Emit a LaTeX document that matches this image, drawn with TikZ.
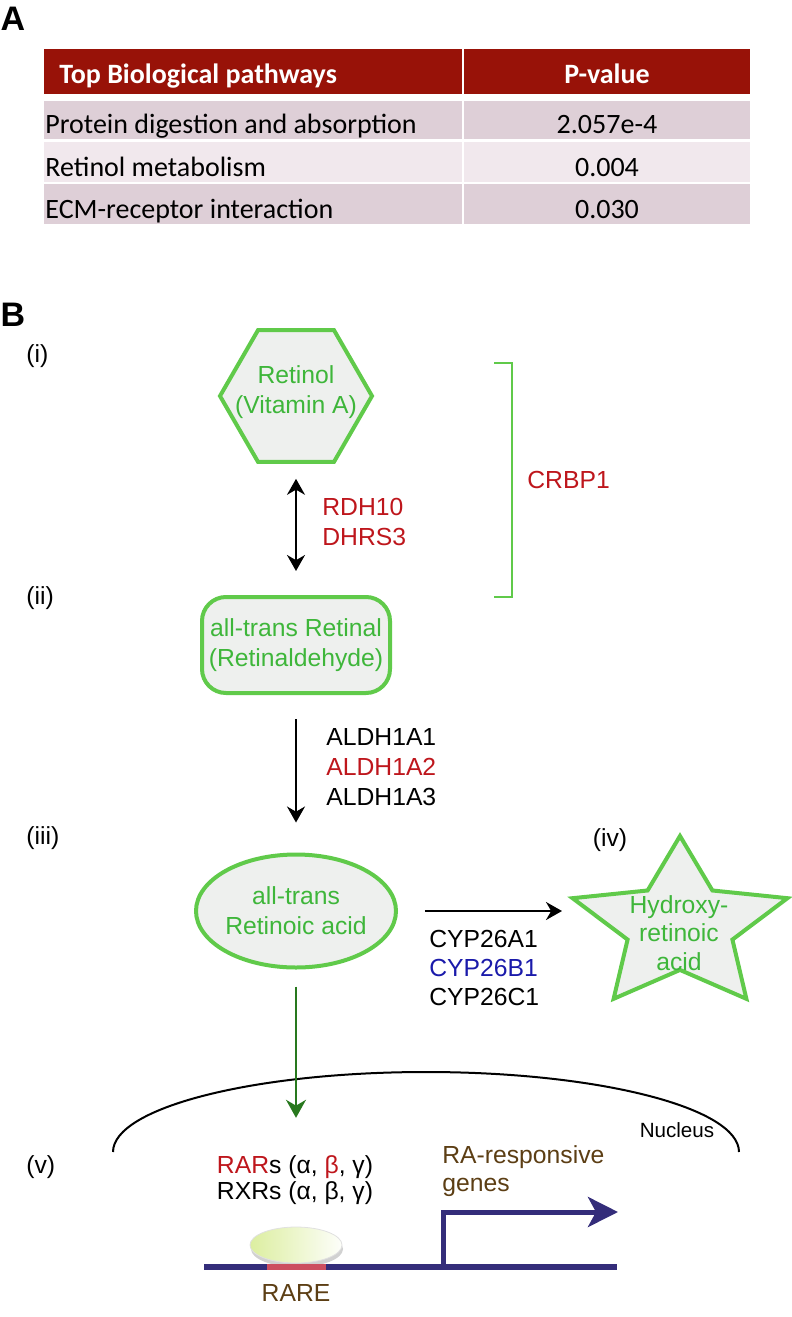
\documentclass[tikz,border=0pt]{standalone}
\usepackage{fontspec}
\setmainfont{Liberation Sans}
\newfontfamily\tabfont{Carlito}
\usepackage{tikz}
\usetikzlibrary{shapes.geometric, arrows.meta}
\definecolor{hdrred}{RGB}{152,18,8}
\definecolor{rowdark}{RGB}{222,207,215}
\definecolor{rowlight}{RGB}{241,232,237}
\definecolor{molgreen}{RGB}{96,202,74}
\definecolor{txtgreen}{RGB}{62,182,58}
\definecolor{molfill}{RGB}{238,240,238}
\definecolor{genred}{RGB}{190,22,28}
\definecolor{genblue}{RGB}{26,26,170}
\definecolor{arrgreen}{RGB}{40,120,30}
\definecolor{dnablue}{RGB}{52,45,122}
\definecolor{rarebrown}{RGB}{92,62,20}
\definecolor{rarered}{RGB}{204,78,96}
\definecolor{bubgreen}{RGB}{220,238,160}

\tikzset{
  panel/.style={font=\fontsize{17pt}{19pt}\bfseries\selectfont, inner sep=0pt},
  tabhead/.style={font=\tabfont\fontsize{14pt}{16pt}\bfseries\selectfont, text=white, inner sep=0pt},
  tabcell/.style={font=\tabfont\fontsize{14pt}{16pt}\selectfont, inner sep=0pt},
  mol/.style={draw=molgreen, line width=2pt, fill=molfill},
  moltext/.style={text=txtgreen, align=center, inner sep=0pt},
  lbl/.style={inner sep=0pt, align=left},
  rxn/.style={line width=1pt, -{Stealth[length=8pt, width=9pt]}},
}

\begin{document}
\begin{tikzpicture}[x=0.5pt, y=-0.5pt, font=\fontsize{12.35pt}{15pt}\selectfont]
\useasboundingbox (0,0) rectangle (792,1317);

\node[panel] (panA) at (13,19) {A};
\draw[draw=none, fill=hdrred] (44,49) rectangle (462,94);
\draw[draw=none, fill=hdrred] (464,49) rectangle (750,94);
\foreach \ya/\yb/\c in {101/139/rowdark, 142/182/rowlight, 184/224/rowdark} {
  \draw[draw=none, fill=\c] (44,\ya) rectangle (462,\yb);
  \draw[draw=none, fill=\c] (464,\ya) rectangle (750,\yb);
}
\node[tabhead, anchor=base west] (hpath) at (59,83) {Top Biological pathways};
\node[tabhead, anchor=base] (hpval) at (607,83) {P-value};
\foreach \y/\lab/\pv [count=\i] in {133/Protein digestion and absorption/2.057e-4,
    176/Retinol metabolism/0.004, 218/ECM-receptor interaction/0.030} {
  \node[tabcell, anchor=base west] (path\i) at (45,\y) {\lab};
  \node[tabcell, anchor=base] (pval\i) at (607,\y) {\pv};
}

\node[panel] (panB) at (13,315) {B};
\foreach \t/\y in {i/356, ii/598, iii/838, v/1167}
  \node[anchor=west, inner sep=0pt] (stage\t) at (26,\y) {(\t)};
\node[inner sep=0pt] (stageiv) at (610,840) {(iv)};

\node[mol, regular polygon, regular polygon sides=6, minimum size=76pt] (retinolhex) at (296,396) {};
\node[moltext] (retinol) at (296,392) {Retinol\\(Vitamin A)};
\node[mol, rounded corners=12pt, minimum width=94pt, minimum height=48pt, text=txtgreen, align=center, inner sep=0pt] (retinal) at (296,645) {all-trans Retinal\\(Retinaldehyde)};
\node[mol, ellipse, minimum width=95pt, minimum height=56.5pt, text=txtgreen, align=center, inner sep=0pt] (retacid) at (296,911) {all-trans\\Retinoic acid};
\begin{scope}[shift={(680,926)}, xscale=1.255]
  \node[mol, star, star points=5, star point ratio=2.05, minimum size=90pt, transform shape] (hydroxy) at (0,0) {};
\end{scope}
\node[moltext, font=\fontsize{12.35pt}{14.25pt}\selectfont] (hydroxytext) at (679,933) {Hydroxy-\\retinoic\\acid};

\draw[line width=1pt, {Stealth[length=8pt, width=9pt]}-{Stealth[length=8pt, width=9pt]}, shorten <=7.5pt, shorten >=12pt] (retinolhex.south) -- (retinal.north);
\node[lbl, text=genred, anchor=west] (rdh) at (322,522) {RDH10\\DHRS3};
\draw[molgreen, line width=1pt] (494,363) -| (512,597) -- (494,597);
\node[lbl, text=genred, anchor=west] (crbp) at (527,480) {CRBP1};

\draw[rxn, shorten <=12pt, shorten >=15pt] (retinal.south) -- (retacid.north);
\node[lbl, anchor=west] (aldh) at (326,767) {ALDH1A1\\\textcolor{genred}{ALDH1A2}\\ALDH1A3};

\draw[rxn, shorten <=13.5pt, shorten >=2.5pt] (retacid.east) -- (retacid.east -| hydroxy.outer point 2);
\node[lbl, anchor=west, font=\fontsize{12.35pt}{14.5pt}\selectfont] (cyp) at (429,968) {CYP26A1\\\textcolor{genblue}{CYP26B1}\\CYP26C1};

\coordinate (nucL) at (113,1152);
\draw[line width=1pt] (nucL) arc[start angle=180, end angle=0, x radius=156.5pt, y radius=40pt];
\node[inner sep=0pt, font=\fontsize{10.3pt}{12pt}\selectfont] (nucleus) at (677,1130) {Nucleus};

\node[lbl, align=center, font=\fontsize{12.35pt}{13.3pt}\selectfont] (rars) at (295,1180) {\textcolor{genred}{RAR}s (α, \textcolor{genred}{β}, γ)\\RXRs (α, β, γ)};
\draw[arrgreen, line width=1pt, -{Stealth[length=9pt, width=10pt]}, shorten <=8.5pt, shorten >=18.5pt] (retacid.south) -- (retacid.south |- rars.north);

\fill[black!18] (297,1249) ellipse[x radius=23pt, y radius=9pt];
\node[ellipse, minimum width=46pt, minimum height=18pt, inner sep=0pt, left color=bubgreen, right color=white!95!bubgreen, draw=black!12, line width=0.4pt] (rxr) at (296,1245) {};
\coordinate (dnaL) at (204,1267);
\coordinate (dnaR) at (617,1267);
\coordinate (rareL) at (267,1267);
\coordinate (rareR) at (326,1267);
\coordinate (tss) at (443,1267);
\coordinate (geneend) at (618,1212);
\draw[dnablue, line width=3pt] (dnaL) -- (dnaR);
\draw[rarered, line width=3pt] (rareL) -- (rareR);
\draw[dnablue, line width=2.5pt, -{Stealth[length=15pt, width=15pt, inset=4pt]}] (tss) |- (geneend);
\node[text=rarebrown, inner sep=0pt] (rare) at (296,1293) {RARE};
\node[lbl, text=rarebrown, anchor=west, font=\fontsize{12.35pt}{14pt}\selectfont] (genes) at (442,1171) {RA-responsive\\genes};
\end{tikzpicture}
\end{document}
